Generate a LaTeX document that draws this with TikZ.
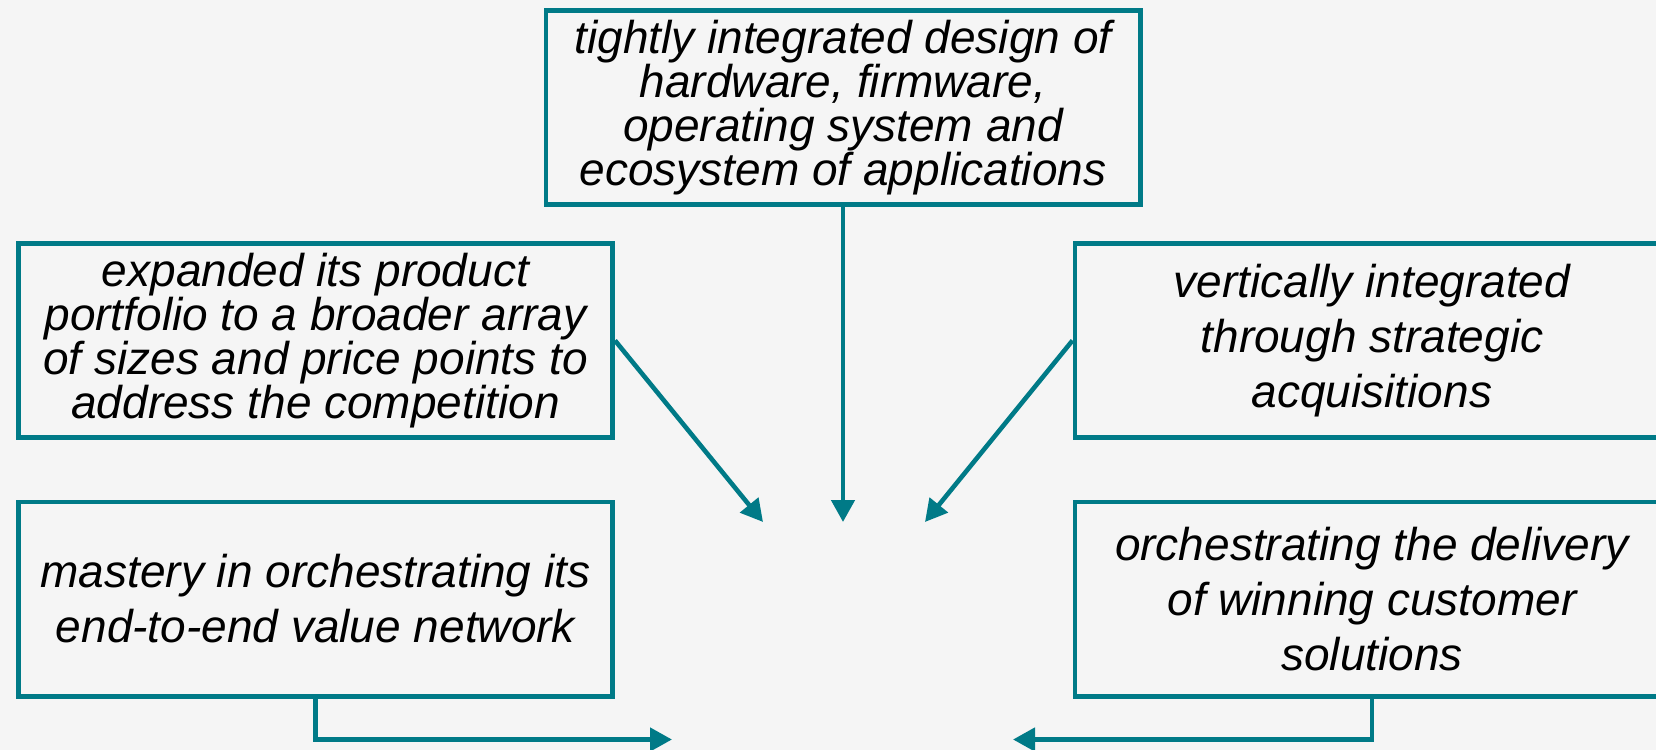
\documentclass[tikz,border=0pt]{standalone}
\usepackage{fontspec}
\setmainfont{Liberation Sans}
\usetikzlibrary{arrows.meta}
\definecolor{linkteal}{HTML}{007A87}
\definecolor{paper}{HTML}{F5F5F5}

\begin{document}
\begin{tikzpicture}[x=0.5pt,y=-0.5pt,
  card/.style={draw=linkteal, line width=2.3pt, fill=paper,
    minimum width=297.2pt, minimum height=97.2pt, inner sep=0pt,
    align=center},
  tight/.style={font=\itshape\fontsize{23}{22}\selectfont},
  loose/.style={font=\itshape\fontsize{23}{27.5}\selectfont},
  link/.style={draw=linkteal, line width=2.3pt,
    -{Triangle[length=11pt,width=11.5pt]}}]

% canvas
\fill[paper] (0,0) rectangle (1656,750);
\useasboundingbox (0,0) rectangle (1656,750);
\clip (0,0) rectangle (1656,750);

% boxes
\node[card,tight] (design) at (843,107.5)
  {tightly integrated design of\\hardware, firmware,\\operating system and\\ecosystem of applications};
\node[card,tight] (portfolio) at (315.5,340.5)
  {expanded its product\\portfolio to a broader array\\of sizes and price points to\\address the competition};
\node[card,loose] (acquire) at (1372,340.5)
  {vertically integrated\\through strategic\\acquisitions};
\node[card,loose] (mastery) at (315.5,599)
  {mastery in orchestrating its\\end-to-end value network};
\node[card,loose] (deliver) at (1372,599)
  {orchestrating the delivery\\of winning customer\\solutions};

% arrow ends
\coordinate (tipL) at (763,522);
\coordinate (tipC) at (843,522);
\coordinate (tipR) at (925,522);
\coordinate (tipBL) at (672,739.5);
\coordinate (tipBR) at (1013,739.5);

% connectors
\draw[link] (design.south) -- (tipC);
\draw[link] (portfolio.east) -- (tipL);
\draw[link] (acquire.west) -- (tipR);
\draw[link] (mastery.south) |- (tipBL);
\draw[link] (deliver.south) |- (tipBR);
\end{tikzpicture}
\end{document}
